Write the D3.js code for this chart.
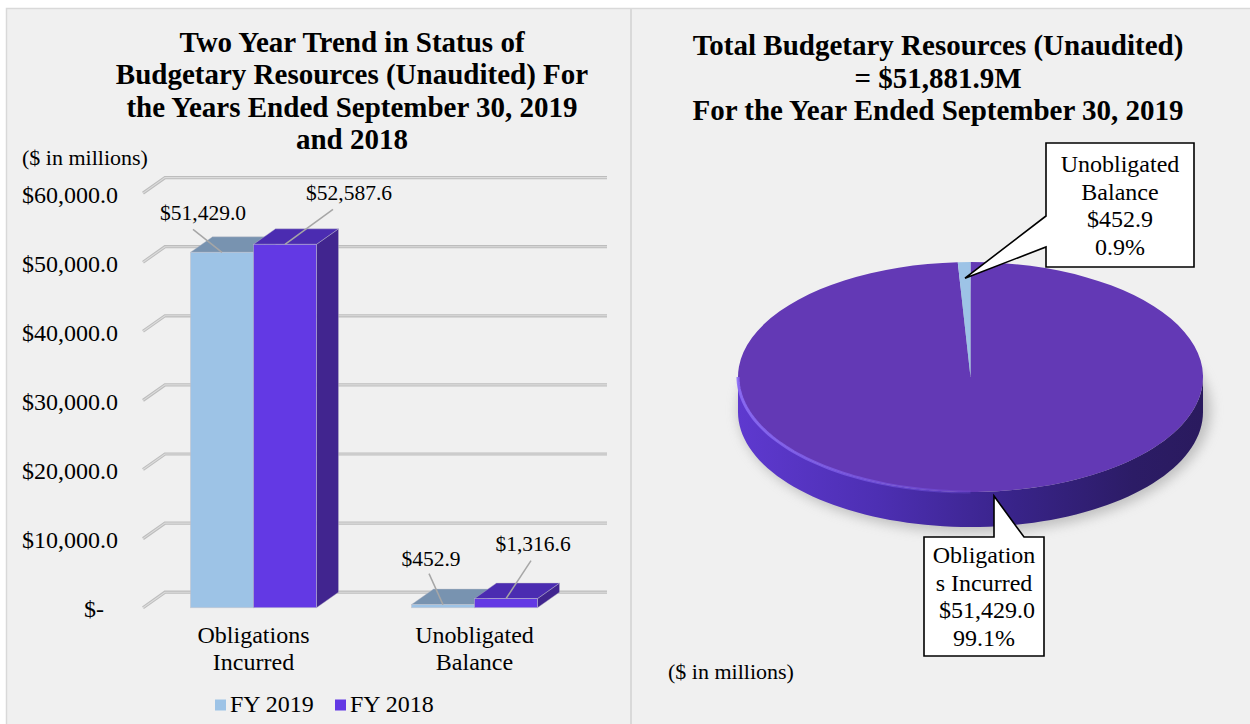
<!DOCTYPE html>
<html><head><meta charset="utf-8">
<script src="https://cdn.jsdelivr.net/npm/d3@7"></script>
<style>
body{margin:0;background:#fff}
svg{display:block}
text{font-family:"Liberation Serif","Times New Roman",serif;fill:#000}
</style>
</head><body>
<svg id="c" width="1250" height="724"></svg>
<script>
// ---------- DATA ----------
const categories = ["Obligations Incurred", "Unobligated Balance"];
const categoryLines = [["Obligations", "Incurred"], ["Unobligated", "Balance"]];
const seriesNames = ["FY 2019", "FY 2018"];
const fy2019 = [51429.0, 452.9];
const fy2018 = [52587.6, 1316.6];
const fy2019Labels = ["$51,429.0", "$452.9"];
const fy2018Labels = ["$52,587.6", "$1,316.6"];
const yTicks = [0, 10000, 20000, 30000, 40000, 50000, 60000];
const yTickLabels = ["$-", "$10,000.0", "$20,000.0", "$30,000.0", "$40,000.0", "$50,000.0", "$60,000.0"];
const barTitle = ["Two Year Trend in Status of", "Budgetary Resources (Unaudited) For", "the Years Ended September 30, 2019", "and 2018"];
const pieTitle = ["Total Budgetary Resources (Unaudited)", "= $51,881.9M", "For the Year Ended September 30, 2019"];
const pieCategories = ["Obligations Incurred", "Unobligated Balance"];
const pieValues = [51429.0, 452.9];
const pieValueLabels = ["$51,429.0", "$452.9"];
const piePercents = ["99.1%", "0.9%"];
const pieCalloutLines = [["Obligation", "s Incurred", "\u00a0$51,429.0", "99.1%"], ["Unobligated", "Balance", "$452.9", "0.9%"]];
const unitsLabel = "($ in millions)";

// ---------- STYLE / LAYOUT ----------
const frontColors = ["#9dc3e6", "#6339e4"];
const topColors = ["#7893b0", "#4b2cb1"];
const sideColors = ["#7c9cbf", "#41258f"];
const pieColors = ["#6339b5", "#9dc3e6"];

const svg = d3.select("#c");
const defs = svg.append("defs");

// background panels
svg.append("rect").attr("x", 6.5).attr("y", 8.5).attr("width", 1250).attr("height", 720)
  .attr("fill", "#f0f0f0").attr("stroke", "#d9d9d9").attr("stroke-width", 1.5);
svg.append("line").attr("x1", 631).attr("x2", 631).attr("y1", 9).attr("y2", 724)
  .attr("stroke", "#d9d9d9").attr("stroke-width", 2);

// ---------- BAR CHART ----------
const DX = 22, DY = -15.5;
const y = d3.scaleLinear().domain([0, 60000]).range([607.7, 193.1]);
const x0 = d3.scaleBand().domain(categories).range([143, 585]);
const groupW = 126;
const x1 = d3.scaleBand().domain(seriesNames).range([0, groupW]);
const off = (x0.bandwidth() - groupW) / 2;

const bar = svg.append("g");

// titles
const tt = bar.append("text").attr("text-anchor", "middle").attr("font-weight", "bold").attr("font-size", 29);
barTitle.forEach((l, i) => tt.append("tspan").attr("x", 352).attr("y", 52 + i * 32.3).text(l));
bar.append("text").attr("x", 22).attr("y", 165).attr("font-size", 22).text(unitsLabel);

// gridlines (wall + back)
const grid = bar.append("g");
yTicks.forEach(t => {
  const yf = y(t);
  const p = `M${x0.range()[0]},${yf}L${x0.range()[0] + DX},${yf + DY}H${x0.range()[1] + DX}`;
  grid.append("path").attr("d", p).attr("fill", "none").attr("stroke", "#bdbdbd").attr("stroke-width", 3.2);
  grid.append("path").attr("d", p).attr("fill", "none").attr("stroke", "#dcdcdc").attr("stroke-width", 1.1);
});

// y axis labels
const ax = bar.append("g").attr("transform", "translate(118,0)")
  .call(d3.axisLeft(y).tickValues(yTicks).tickFormat((d, i) => yTickLabels[i]).tickSize(0).tickPadding(0));
ax.select(".domain").remove();
ax.selectAll("text").attr("font-size", 24).attr("font-family", "Liberation Serif").attr("fill", "#000")
  .attr("dy", "0.38em")
  .attr("x", (d) => d === 0 ? -14 : 0);

// bars
const seriesVals = [fy2019, fy2018];
const seriesLabels = [fy2019Labels, fy2018Labels];
// label offsets relative to front-top-middle of bar: [label dx, label dy (baseline), leader start dx, dy]
const labelOffsets = [
  [[-19, -32, -29, -23], [64, -44, 48, -35]],
  [[-12, -39, -14, -31], [27, -48, 25, -38]]
];
const bars = bar.append("g");
const labels = bar.append("g");
categories.forEach((cat, ci) => {
  seriesNames.forEach((s, si) => {
    const v = seriesVals[si][ci];
    const xl = x0(cat) + off + x1(s), w = x1.bandwidth();
    const yt = y(v), yb = y(0);
    const g = bars.append("g");
    g.append("path").attr("d", `M${xl + w},${yt}L${xl + w + DX},${yt + DY}V${yb + DY}L${xl + w},${yb}Z`)
      .attr("fill", sideColors[si]).attr("stroke", "rgba(190,190,200,0.5)").attr("stroke-width", 0.8);
    g.append("path").attr("d", `M${xl},${yt}L${xl + DX},${yt + DY}H${xl + w + DX}L${xl + w},${yt}Z`)
      .attr("fill", topColors[si]).attr("stroke", "rgba(190,190,200,0.5)").attr("stroke-width", 0.8);
    g.append("rect").attr("x", xl).attr("y", yt).attr("width", w).attr("height", yb - yt)
      .attr("fill", frontColors[si]).attr("stroke", "rgba(190,190,200,0.6)").attr("stroke-width", 0.8);
    // label
    const mx = xl + w / 2, o = labelOffsets[ci][si];
    labels.append("line").attr("x1", mx + o[2] + 0).attr("y1", yt + o[3]).attr("x2", mx).attr("y2", yt)
      .attr("stroke", "#a6a6a6").attr("stroke-width", 1.5);
    labels.append("text").attr("x", mx + o[0]).attr("y", yt + o[1]).attr("text-anchor", "middle")
      .attr("font-size", 21.5).text(seriesLabels[si][ci]);
  });
  const ct = bar.append("text").attr("text-anchor", "middle").attr("font-size", 24);
  categoryLines[ci].forEach((l, li) => ct.append("tspan").attr("x", x0(cat) + x0.bandwidth() / 2).attr("y", 643 + li * 27).text(l));
});

// legend
const legX = [215, 335];
seriesNames.forEach((s, i) => {
  bar.append("rect").attr("x", legX[i]).attr("y", 699.5).attr("width", 11).attr("height", 11).attr("fill", frontColors[i]);
  bar.append("text").attr("x", legX[i] + 15).attr("y", 712).attr("font-size", 24).text(s);
});

// ---------- PIE CHART ----------
const pieG = svg.append("g");
const pt = pieG.append("text").attr("text-anchor", "middle").attr("font-weight", "bold").attr("font-size", 29);
pieTitle.forEach((l, i) => pt.append("tspan").attr("x", 938).attr("y", 55 + i * 32.5).text(l));
pieG.append("text").attr("x", 668).attr("y", 679).attr("font-size", 22).text(unitsLabel);

const CX = 970.5, CY = 377, RX = 232.5, RY = 115, T = 35;
const proj = (a, r = 1) => [CX + RX * r * Math.sin(a), CY - RY * r * Math.cos(a)];

// shadow
const blur = defs.append("filter").attr("id", "blur").attr("x", "-20%").attr("y", "-20%").attr("width", "140%").attr("height", "140%");
blur.append("feGaussianBlur").attr("stdDeviation", 6);
pieG.append("ellipse").attr("cx", CX + 4).attr("cy", CY + T - 2).attr("rx", RX + 4).attr("ry", RY + 8)
  .attr("fill", "#9a9a9a").attr("opacity", 0.55).attr("filter", "url(#blur)");

// side gradient
const sg = defs.append("linearGradient").attr("id", "sideGrad").attr("gradientUnits", "userSpaceOnUse")
  .attr("x1", CX - RX).attr("x2", CX + RX).attr("y1", 0).attr("y2", 0);
[[0, "#5e39cf"], [0.3, "#4d2fb3"], [0.6, "#382388"], [0.85, "#2c1c66"], [1, "#2a1a5e"]]
  .forEach(([o, c]) => sg.append("stop").attr("offset", o).attr("stop-color", c));
const rg = defs.append("linearGradient").attr("id", "rimGrad").attr("gradientUnits", "userSpaceOnUse")
  .attr("x1", CX - RX).attr("x2", CX + RX * 0.3).attr("y1", 0).attr("y2", 0);
[[0, "#8b6cf5", 0.9], [0.6, "#7a5ae8", 0.5], [1, "#6a4ad8", 0]]
  .forEach(([o, c, op]) => rg.append("stop").attr("offset", o).attr("stop-color", c).attr("stop-opacity", op));

const arcs = d3.pie().sort(null).value(d => d)(pieValues);

// sides: visible front half (pi/2 .. 3pi/2)
arcs.forEach((a, i) => {
  const s = Math.max(a.startAngle, Math.PI / 2), e = Math.min(a.endAngle, 3 * Math.PI / 2);
  if (e <= s) return;
  const N = 80, top = [], bot = [];
  for (let k = 0; k <= N; k++) {
    const ang = s + (e - s) * k / N;
    const p = proj(ang);
    top.push(p); bot.push([p[0], p[1] + T]);
  }
  const line = d3.line();
  pieG.append("path").attr("d", line(top.concat(bot.reverse())) + "Z")
    .attr("fill", i === 0 ? "url(#sideGrad)" : pieColors[i]);
});

// top faces through d3.arc, squashed
const arcGen = d3.arc().innerRadius(0).outerRadius(RX);
const topG = pieG.append("g").attr("transform", `translate(${CX},${CY}) scale(1,${RY / RX})`);
topG.selectAll("path").data(arcs).join("path").attr("d", arcGen).attr("fill", (d, i) => pieColors[i]);

// rim highlight
const rimPts = d3.range(0, 61).map(k => proj(Math.PI + (Math.PI / 2) * k / 60));
pieG.append("path").attr("d", d3.line()(rimPts)).attr("fill", "none")
  .attr("stroke", "url(#rimGrad)").attr("stroke-width", 3);

// callouts
// Unobligated Balance callout (box + wedge pointing to slice)
const ua = (arcs[1].startAngle + arcs[1].endAngle) / 2;
const uTip = proj(ua, 0.86);
const ub = {x: 1046, y: 143, w: 148, h: 124};
pieG.append("path").attr("d", `M${ub.x},${ub.y}H${ub.x + ub.w}V${ub.y + ub.h}H${ub.x}V${ub.y + 104}L${uTip[0]},${uTip[1]}L${ub.x},${ub.y + 73}Z`)
  .attr("fill", "#fff").attr("stroke", "#000").attr("stroke-width", 1.6).attr("stroke-linejoin", "miter");
const ut = pieG.append("text").attr("text-anchor", "middle").attr("font-size", 24);
pieCalloutLines[1].forEach((l, i) => ut.append("tspan").attr("x", ub.x + ub.w / 2).attr("y", 172 + i * 27.6).text(l));

// Obligations Incurred callout
const ob = {x: 924, y: 537, w: 120, h: 119};
const oTip = [994, 496];
pieG.append("path").attr("d", `M${ob.x},${ob.y}H${oTip[0]}V${oTip[1]}L${oTip[0] + 30},${ob.y}H${ob.x + ob.w}V${ob.y + ob.h}H${ob.x}Z`)
  .attr("fill", "#fff").attr("stroke", "#000").attr("stroke-width", 1.6);
const ot = pieG.append("text").attr("text-anchor", "middle").attr("font-size", 24);
pieCalloutLines[0].forEach((l, i) => ot.append("tspan").attr("x", ob.x + ob.w / 2).attr("y", 563 + i * 27.6).text(l));
</script>
</body></html>
